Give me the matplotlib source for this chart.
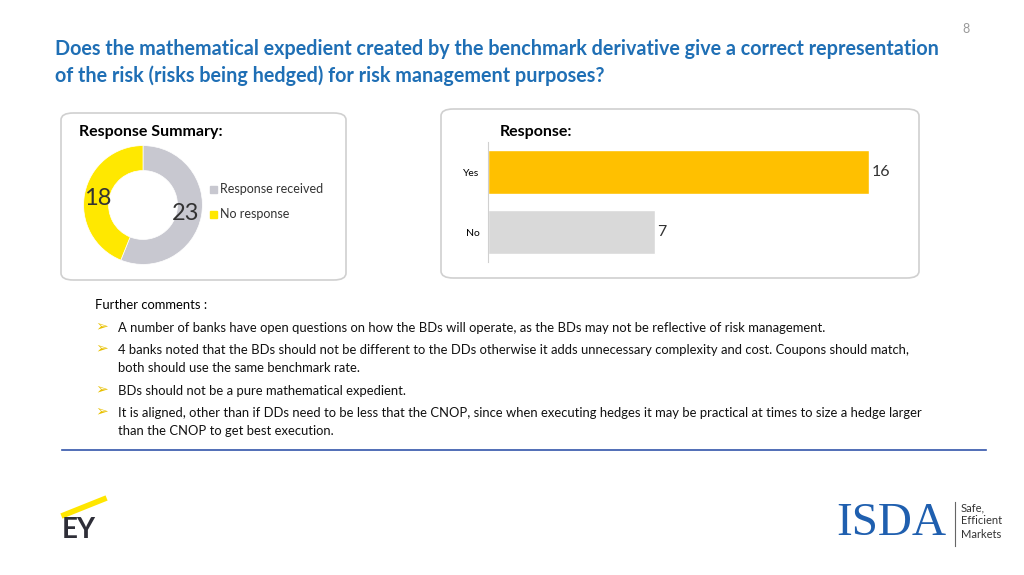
import matplotlib
matplotlib.use("Agg")
import matplotlib.pyplot as plt
from matplotlib.patches import FancyBboxPatch
from matplotlib.lines import Line2D

plt.rcParams['font.family'] = ['Lato', 'DejaVu Sans']

W, H = 1024, 575
pie_labels = ["Response received", "No response"]
pie_values = [23, 18]
pie_colors = ["#C8C8D0", "#FFE800"]
bar_cats = ["No", "Yes"]
bar_values = [7, 16]
bar_colors = ["#D9D9D9", "#FFC000"]

fig = plt.figure(figsize=(W/100, H/100), dpi=100)

def fx(x): return x / W
def fy(y): return 1 - y / H

def box(x0, y0, x1, y1):
    p = FancyBboxPatch((fx(x0), fy(y1)), fx(x1 - x0), fy(y0) - fy(y1),
                       boxstyle="round,pad=0,rounding_size=0.012",
                       transform=fig.transFigure, fill=False,
                       edgecolor="#D0D0D0", linewidth=1.2)
    fig.add_artist(p)

blue = "#1F6FB5"
fig.text(fx(962), fy(29), "8", fontsize=9, color="#999999", ha="left", va="center")
fig.text(fx(55), fy(49), "Does the mathematical expedient created by the benchmark derivative give a correct representation",
         fontsize=14.2, fontweight="bold", color=blue, va="center")
fig.text(fx(55), fy(76), "of the risk (risks being hedged) for risk management purposes?",
         fontsize=14.2, fontweight="bold", color=blue, va="center")

box(61, 113, 346, 280)
box(441, 109, 919, 278)
fig.text(fx(79), fy(132), "Response Summary:", fontsize=11.5, fontweight="bold", va="center")
fig.text(fx(500), fy(132), "Response:", fontsize=11.5, fontweight="bold", va="center")

# donut
axp = fig.add_axes([fx(83), fy(265), fx(120), fy(145) - fy(265)])
wedges, _ = axp.pie(pie_values, colors=pie_colors, startangle=90, counterclock=False,
                    wedgeprops=dict(width=0.42, edgecolor="white", linewidth=0.5))
axp.set_xlim(-1.01, 1.01)
axp.set_ylim(-1.01, 1.01)
axp.set_aspect("equal")
fig.text(fx(186), fy(213), str(pie_values[0]), fontsize=17, ha="center", va="center", color="#333333")
fig.text(fx(98), fy(198), str(pie_values[1]), fontsize=17, ha="center", va="center", color="#333333")
for i, (lab, c) in enumerate(zip(pie_labels, pie_colors)):
    y = 189 + i * 25
    fig.patches.append(matplotlib.patches.Rectangle((fx(210), fy(y + 4)), fx(7), fy(y - 3) - fy(y + 4),
                       transform=fig.transFigure, color=c))
    fig.text(fx(220), fy(y), lab, fontsize=9, va="center", color="#333333")

# bars
axb = fig.add_axes([fx(488), fy(262), fx(900 - 488), fy(142) - fy(262)])
axb.barh(bar_cats, bar_values, color=bar_colors, height=0.72, edgecolor="white")
axb.set_xlim(0, 17.3)
axb.set_ylim(-0.5, 1.5)
for i, v in enumerate(bar_values):
    axb.text(v + 0.1, i, str(v), fontsize=11.5, va="center", ha="left", color="#333333")
axb.set_xticks([])
axb.tick_params(axis="y", length=0, labelsize=7.5, pad=6)
for s in ["top", "right", "bottom"]:
    axb.spines[s].set_visible(False)
axb.spines["left"].set_color("#D0D0D0")

# comments
fig.text(fx(95), fy(305), "Further comments :", fontsize=9.4, va="center")
bul = [(328, "A number of banks have open questions on how the BDs will operate, as the BDs may not be reflective of risk management."),
       (350, "4 banks noted that the BDs should not be different to the DDs otherwise it adds unnecessary complexity and cost. Coupons should match,"),
       (368, "both should use the same benchmark rate."),
       (391, "BDs should not be a pure mathematical expedient."),
       (413, "It is aligned, other than if DDs need to be less that the CNOP, since when executing hedges it may be practical at times to size a hedge larger"),
       (431, "than the CNOP to get best execution.")]
for y, t in bul:
    fig.text(fx(118), fy(y), t, fontsize=9.4, va="center", color="#111111")
for y in [326, 348, 389, 411]:
    fig.text(fx(95), fy(y), "➢", fontsize=11, va="center", color="#E8C000", family=["DejaVu Sans"])

fig.add_artist(Line2D([fx(62), fx(986)], [fy(450), fy(450)], color="#3355AA", linewidth=1.2))

# logos
fig.add_artist(Line2D([fx(64), fx(104)], [fy(515), fy(499)], color="#FFE600", linewidth=4))
fig.text(fx(62), fy(530), "EY", fontsize=20, fontweight="bold", va="center", color="#2E2E38")
fig.text(fx(836), fy(524), "ISDA", fontsize=34, family=["Liberation Serif"], va="center", color="#1F5FAF")
fig.add_artist(Line2D([fx(955), fx(955)], [fy(502), fy(546)], color="#666666", linewidth=0.8))
for i, t in enumerate(["Safe,", "Efficient", "Markets"]):
    fig.text(fx(961), fy(508 + i * 13), t, fontsize=8, va="center", color="#333333")

fig.savefig("out.png", dpi=100)
